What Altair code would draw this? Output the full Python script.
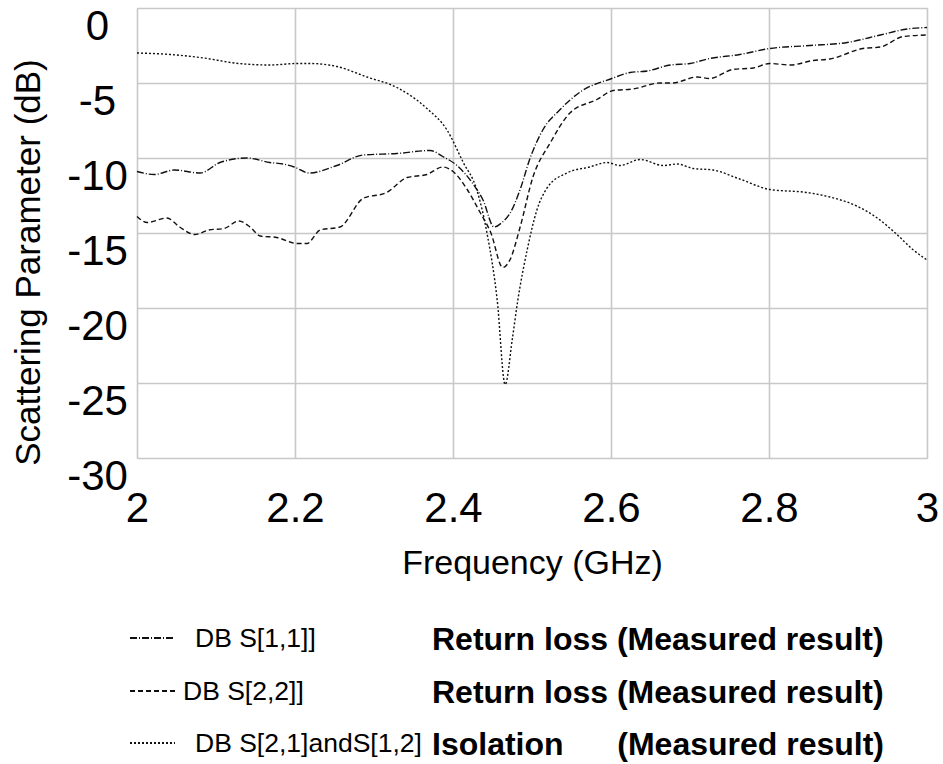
import altair as alt
import pandas as pd

# Measured S-parameters, frequency in GHz, magnitude in dB
S11_FREQ = [2.000, 2.022, 2.047, 2.080, 2.105, 2.139, 2.168, 2.185, 2.199, 2.218,
            2.253, 2.286, 2.329, 2.371, 2.387, 2.405, 2.425, 2.438, 2.452, 2.462,
            2.472, 2.485, 2.497, 2.514, 2.535, 2.561, 2.601, 2.624, 2.646, 2.675,
            2.700, 2.722, 2.763, 2.801, 2.852, 2.899, 2.941, 2.975, 3.000]
S11_DB = [-10.9, -11.1, -10.8, -11.0, -10.3, -10.0, -10.3, -10.4, -10.6, -11.0,
          -10.5, -9.8, -9.7, -9.5, -9.9, -10.5, -11.7, -12.8, -14.6, -14.3,
          -13.7, -12.1, -10.1, -8.1, -6.8, -5.6, -4.7, -4.3, -4.2, -3.8,
          -3.7, -3.4, -3.1, -2.7, -2.5, -2.3, -1.8, -1.4, -1.3]

S22_FREQ = [2.000, 2.013, 2.038, 2.054, 2.073, 2.091, 2.110, 2.129, 2.143, 2.156,
            2.177, 2.203, 2.215, 2.232, 2.257, 2.286, 2.316, 2.342, 2.367, 2.387,
            2.400, 2.418, 2.434, 2.448, 2.463, 2.472, 2.485, 2.501, 2.523, 2.548,
            2.582, 2.603, 2.628, 2.662, 2.678, 2.709, 2.725, 2.754, 2.780, 2.801,
            2.827, 2.856, 2.877, 2.919, 2.941, 2.970, 3.000]
S22_DB = [-13.9, -14.3, -14.0, -14.6, -15.1, -14.8, -14.7, -14.2, -14.6, -15.2,
          -15.3, -15.7, -15.7, -14.8, -14.6, -12.7, -12.3, -11.3, -11.1, -10.6,
          -10.9, -12.1, -13.6, -15.0, -17.3, -16.8, -14.6, -11.3, -9.0, -7.0,
          -6.1, -5.5, -5.4, -5.0, -5.0, -4.6, -4.7, -4.1, -4.0, -3.7,
          -3.8, -3.5, -3.4, -2.7, -2.6, -1.9, -1.8]

S21_FREQ = [2.000, 2.042, 2.080, 2.129, 2.168, 2.203, 2.219, 2.253, 2.291, 2.329,
            2.367, 2.392, 2.413, 2.430, 2.443, 2.456, 2.466, 2.475, 2.482, 2.494,
            2.506, 2.519, 2.544, 2.573, 2.595, 2.611, 2.637, 2.666, 2.684, 2.704,
            2.729, 2.763, 2.801, 2.848, 2.877, 2.911, 2.937, 2.962, 2.982, 3.000]
S21_DB = [-3.0, -3.1, -3.3, -3.7, -3.8, -3.7, -3.7, -3.9, -4.6, -5.3,
          -6.7, -8.1, -10.3, -12.1, -15.0, -19.5, -25.1, -22.1, -19.5, -16.1,
          -13.5, -12.0, -11.0, -10.6, -10.3, -10.5, -10.1, -10.5, -10.4, -10.7,
          -10.8, -11.4, -12.1, -12.3, -12.6, -13.2, -14.0, -15.1, -16.1, -16.8]

SERIES = ["DB S[1,1]]", "DB S[2,2]]", "DB S[2,1]andS[1,2]"]
DESCRIPTIONS = ["Return loss (Measured result)", "Return loss (Measured result)",
                "Isolation"]
DASHES = [[7, 2, 1, 2], [5, 3], [2, 2]]

X_TICKS = [2, 2.2, 2.4, 2.6, 2.8, 3]
Y_TICKS = [-30, -25, -20, -15, -10, -5, 0]

frames = []
for name, f, db in zip(SERIES, [S11_FREQ, S22_FREQ, S21_FREQ], [S11_DB, S22_DB, S21_DB]):
    frames.append(pd.DataFrame({"series": name, "freq": f, "db": db}))
data = pd.concat(frames, ignore_index=True)

W, H = 790, 450
FONT = "Liberation Sans"
INK = "#111111"

curves = alt.Chart(data).mark_line(strokeWidth=1.4, color=INK,
                                   interpolate="monotone").encode(
    x=alt.X("freq:Q", scale=alt.Scale(domain=[2, 3], nice=False, zero=False),
            axis=alt.Axis(values=X_TICKS, labelExpr="toString(datum.value)",
                          title="Frequency (GHz)", grid=True, gridColor="#c8c8c8",
                          gridWidth=1.6, domain=False, ticks=False,
                          labelFont=FONT, labelFontSize=42, labelColor="black",
                          labelPadding=30, labelFlush=False,
                          titleFont=FONT, titleFontSize=34, titleFontWeight="normal",
                          titleColor="black", titleY=105, titleBaseline="middle")),
    y=alt.Y("db:Q", scale=alt.Scale(domain=[-30, 0], nice=False, zero=False),
            axis=alt.Axis(values=Y_TICKS, labelExpr="toString(datum.value)",
                          title="Scattering Parameter (dB)", grid=True,
                          gridColor="#c8c8c8", gridWidth=1.6, domain=False,
                          ticks=False, labelFont=FONT, labelFontSize=42,
                          labelColor="black", labelAlign="center", labelPadding=40,
                          labelOffset=18, labelFlush=False,
                          titleFont=FONT, titleFontSize=35, titleFontWeight="normal",
                          titleColor="black", titleX=-109, titleY=254,
                          titleAlign="center", titleBaseline="middle", titleAngle=-90)),
    strokeDash=alt.StrokeDash("series:N", scale=alt.Scale(domain=SERIES, range=DASHES),
                              legend=None),
    detail="series:N",
)

# Hand-drawn legend below the plot: line sample, series name, description
ROW_Y = [630, 683, 735]
legend_layers = []
for i, name in enumerate(SERIES):
    legend_layers.append(
        alt.Chart(data).mark_rule(strokeWidth=1.2, color=INK,
                                  strokeDash=DASHES[i]).encode(
            x=alt.value(-7), x2=alt.value(38), y=alt.value(ROW_Y[i]))
    )
    legend_layers.append(
        alt.Chart(pd.DataFrame({"t": [name]})).mark_text(
            align="left", baseline="middle", font=FONT, fontSize=26.5, color="black"
        ).encode(x=alt.value(58 if i != 1 else 46), y=alt.value(ROW_Y[i] + 1),
                 text="t:N")
    )
    legend_layers.append(
        alt.Chart(pd.DataFrame({"t": [DESCRIPTIONS[i]]})).mark_text(
            align="left", baseline="middle", font=FONT, fontSize=32,
            fontWeight="bold", color="black"
        ).encode(x=alt.value(295), y=alt.value(ROW_Y[i] + 2), text="t:N")
    )
legend_layers.append(
    alt.Chart(pd.DataFrame({"t": ["(Measured result)"]})).mark_text(
        align="right", baseline="middle", font=FONT, fontSize=32,
        fontWeight="bold", color="black"
    ).encode(x=alt.value(747), y=alt.value(ROW_Y[2] + 2), text="t:N")
)

chart = alt.layer(curves, *legend_layers).properties(
    width=W, height=H,
    autosize=alt.AutoSizeParams(type="none"),
    padding={"left": 137, "top": 8, "right": 16, "bottom": 306},
).configure_view(stroke="black", strokeWidth=2.5).configure(background="white")

chart.save("out.html", embed_options={"renderer": "svg", "actions": False})
